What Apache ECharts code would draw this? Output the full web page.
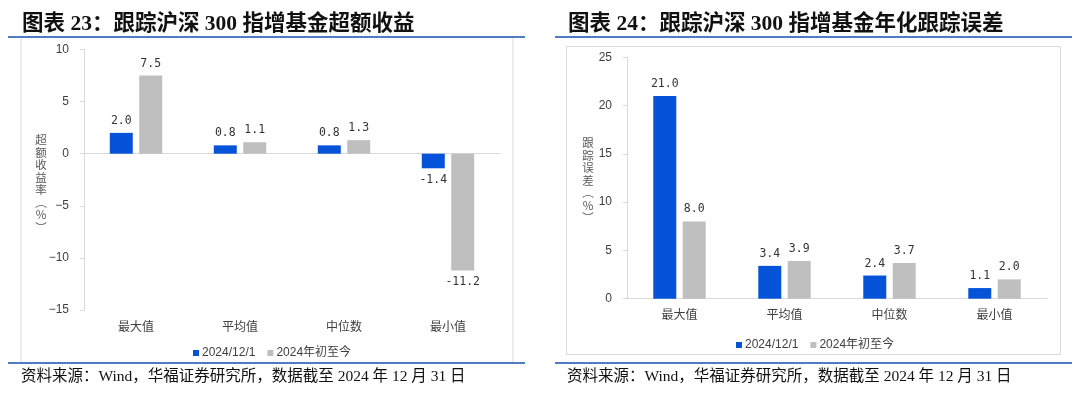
<!DOCTYPE html>
<html>
<head>
<meta charset="utf-8">
<script src="https://cdn.jsdelivr.net/npm/echarts@6/dist/echarts.min.js"></script>
<style>
html,body{margin:0;padding:0;background:#fff;}
#c{width:1080px;height:394px;}
</style>
</head>
<body>
<div id="c"></div>
<script>
// ---- data ----
const categories = ['最大值', '平均值', '中位数', '最小值'];
const seriesNames = ['2024/12/1', '2024年初至今'];
const excessBlue = [2.0, 0.8, 0.8, -1.4];
const excessGray = [7.5, 1.1, 1.3, -11.2];
const trackBlue = [21.0, 3.4, 2.4, 1.1];
const trackGray = [8.0, 3.9, 3.7, 2.0];
const leftTitle = '图表 23：跟踪沪深 300 指增基金超额收益';
const rightTitle = '图表 24：跟踪沪深 300 指增基金年化跟踪误差';
const sourceText = '资料来源：Wind，华福证券研究所，数据截至 2024 年 12 月 31 日';
const leftYName = '超额收益率︵%︶';
const rightYName = '跟踪误差︵%︶';

const BLUE = '#0553D8';
const GRAY = '#BFBFBF';
const AXIS = '#D9D9D9';
const TXT = '#404040';
const CJK = '"Noto Sans CJK SC", sans-serif';
const SERIF = '"Liberation Serif", "Noto Sans CJK SC", serif';

function barData(arr) {
  return arr.map(v => ({ value: v, label: { position: v < 0 ? 'bottom' : 'top' } }));
}
function barSeries(name, arr, color, xi, yi) {
  return {
    name: name, type: 'bar', xAxisIndex: xi, yAxisIndex: yi,
    data: barData(arr), barWidth: 23, barGap: '28%',
    itemStyle: { color: color },
    label: { show: true, distance: 6, color: '#333', fontSize: 11.5,
      fontFamily: '"DejaVu Sans Mono", monospace',
      formatter: p => p.value.toFixed(1) },
    emphasis: { disabled: true }
  };
}
function catAxisLabels(gi) {
  return { type: 'category', gridIndex: gi, data: categories,
    axisLine: { show: false, onZero: false }, axisTick: { show: false },
    axisLabel: { color: TXT, fontSize: 12, fontFamily: CJK, margin: 10 } };
}
function catAxisLine(gi) {
  return { type: 'category', gridIndex: gi, data: categories, position: 'bottom',
    axisLine: { show: true, onZero: true, lineStyle: { color: AXIS, width: 1 } },
    axisTick: { show: false }, axisLabel: { show: false } };
}
function valAxis(gi, min, max) {
  return { type: 'value', gridIndex: gi, min: min, max: max, interval: 5,
    axisLine: { show: true, lineStyle: { color: AXIS } },
    axisTick: { show: true, length: 4, lineStyle: { color: AXIS } },
    splitLine: { show: false },
    axisLabel: { color: TXT, fontSize: 12, fontFamily: '"Liberation Sans", Arial, sans-serif', margin: 15,
      formatter: v => String(v).replace('-', '−') } };
}
function vertName(x, yTop, chars) {
  return Array.from(chars).map((ch, i) => ({
    type: 'text', x: x, y: yTop + i * 12.5, z: 100,
    style: { text: ch, fill: '#595959', fontSize: 11.5, fontFamily: 'Noto Sans CJK SC',
      fontWeight: 'normal', align: 'center', verticalAlign: 'middle' } }));
}

const chart = echarts.init(document.getElementById('c'), null, { renderer: 'canvas' });
chart.setOption({
  animation: false,
  backgroundColor: '#fff',
  grid: [
    { left: 84, top: 49.5, width: 416, height: 260.5 },
    { left: 627, top: 57.3, width: 420, height: 241.4 }
  ],
  xAxis: [catAxisLabels(0), catAxisLine(0), catAxisLabels(1), catAxisLine(1)],
  yAxis: [valAxis(0, -15, 10), valAxis(1, 0, 25)],
  legend: [
    { left: 188, top: 342, itemWidth: 6, itemHeight: 6, itemGap: 12, icon: 'rect',
      data: seriesNames, textStyle: { color: TXT, fontSize: 12, fontFamily: '"Liberation Sans", ' + CJK, padding: [0, 0, 0, -2] } },
    { left: 731, top: 334, itemWidth: 6, itemHeight: 6, itemGap: 12, icon: 'rect',
      data: seriesNames, textStyle: { color: TXT, fontSize: 12, fontFamily: '"Liberation Sans", ' + CJK, padding: [0, 0, 0, -2] } }
  ],
  series: [
    barSeries(seriesNames[0], excessBlue, BLUE, 0, 0),
    barSeries(seriesNames[1], excessGray, GRAY, 0, 0),
    barSeries(seriesNames[0], trackBlue, BLUE, 2, 1),
    barSeries(seriesNames[1], trackGray, GRAY, 2, 1)
  ],
  graphic: [
    { type: 'rect', shape: { x: 21, y: 37, width: 492, height: 326 }, style: { fill: 'none', stroke: AXIS, lineWidth: 1 }, z: -1 },
    { type: 'rect', shape: { x: 566.5, y: 46.5, width: 494, height: 308 }, style: { fill: 'none', stroke: AXIS, lineWidth: 1 }, z: -1 },
    { type: 'line', shape: { x1: 8, y1: 37, x2: 525, y2: 37 }, style: { stroke: '#4F7BC3', lineWidth: 2 } },
    { type: 'line', shape: { x1: 8, y1: 363, x2: 525, y2: 363 }, style: { stroke: '#4F7BC3', lineWidth: 2 } },
    { type: 'line', shape: { x1: 555, y1: 37, x2: 1072, y2: 37 }, style: { stroke: '#4F7BC3', lineWidth: 2 } },
    { type: 'line', shape: { x1: 555, y1: 363, x2: 1072, y2: 363 }, style: { stroke: '#4F7BC3', lineWidth: 2 } },
    { type: 'text', x: 22, y: 24, style: { text: leftTitle, fill: '#111', font: 'bold 21.5px ' + SERIF, verticalAlign: 'middle' } },
    { type: 'text', x: 568, y: 24, style: { text: rightTitle, fill: '#111', font: 'bold 21.5px ' + SERIF, verticalAlign: 'middle' } },
    { type: 'text', x: 21, y: 377, style: { text: sourceText, fill: '#111', font: '15.5px ' + SERIF, verticalAlign: 'middle' } },
    { type: 'text', x: 567, y: 377, style: { text: sourceText, fill: '#111', font: '15.5px ' + SERIF, verticalAlign: 'middle' } },
    ...vertName(41, 140, leftYName),
    ...vertName(588, 143, rightYName)
  ]
});
</script>
</body>
</html>
